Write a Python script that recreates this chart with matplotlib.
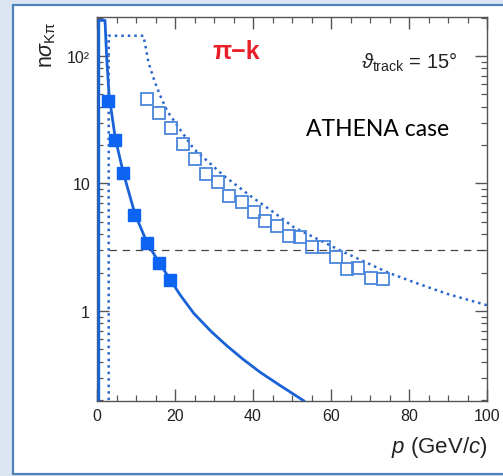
import numpy as np
import matplotlib
matplotlib.use("Agg")
import matplotlib.pyplot as plt
from matplotlib.patches import Rectangle
from matplotlib.ticker import FixedLocator, FixedFormatter, LogLocator, NullFormatter, MultipleLocator

plt.rcParams['font.family'] = ['Liberation Sans', 'DejaVu Sans']
plt.rcParams['mathtext.fontset'] = 'custom'
plt.rcParams['mathtext.rm'] = 'Liberation Sans'
plt.rcParams['mathtext.it'] = 'Liberation Sans:italic'
plt.rcParams['mathtext.bf'] = 'Liberation Sans:bold'

# solid pi-K separation curve
solid_p = [0.45, 0.45, 2.05, 2.5, 3.1, 4.7, 6.7, 9.7, 12.8, 15.9, 18.8, 21.3, 24.8, 29.3, 33.3, 37.6, 41.9, 47.0, 53.0]
solid_v = [0.2, 190, 190, 95, 49, 22.5, 12.3, 5.8, 3.45, 2.4, 1.76, 1.34, 0.96, 0.69, 0.534, 0.415, 0.33, 0.26, 0.198]

# dotted curve
dot_p = [3.0, 3.0, 11.9, 12.6, 13.2, 14.7, 16.2, 18.0, 20.6, 24.8, 32.5, 39.3, 45.3, 50.5, 62.5, 74.5, 81.3, 89.9, 100.0]
dot_v = [0.2, 144, 144, 112, 89, 64, 48.9, 37, 28.4, 18.7, 11.5, 8.0, 5.94, 4.53, 2.97, 2.01, 1.68, 1.36, 1.11]

# filled squares
fill_p = [2.7, 4.6, 6.6, 9.6, 12.7, 15.9, 18.7]
fill_v = [44.7, 22.1, 12.1, 5.66, 3.41, 2.38, 1.76]

# open squares
open_p = [12.7, 16.0, 18.9, 22.0, 25.0, 28.0, 30.9, 33.9, 37.2, 40.2, 43.2, 46.2,
          49.2, 52.0, 55.2, 58.2, 61.2, 64.0, 67.0, 70.2, 73.4]
open_v = [46, 36, 27.1, 20.4, 15.6, 11.9, 10.2, 8.0, 7.1, 5.94, 5.1, 4.67,
          3.9, 3.78, 3.16, 3.16, 2.64, 2.13, 2.18, 1.82, 1.77]

threshold = 3.0
ytick_vals = [1, 10, 100]
ytick_labels = ['1', '10', '10²']
xtick_vals = [0, 20, 40, 60, 80, 100]

W, H = 503, 477
fig = plt.figure(figsize=(W / 100, H / 100), dpi=100, facecolor='#dce6f2')
fig.patches.append(Rectangle((13 / W, 2 / H), 1.0, 1 - 8 / H, transform=fig.transFigure,
                             facecolor='white', edgecolor='#4f81bd', linewidth=1.6, zorder=-10))

ax = fig.add_axes([97 / W, 1 - 402 / H, 390 / W, 384 / H])
ax.set_facecolor('none')
ax.set_yscale('log')
ax.set_xlim(0, 100)
ax.set_ylim(0.197, 202)

ax.plot(solid_p, solid_v, color='#1a62d8', lw=2.0, solid_joinstyle='round', zorder=3)
ax.plot(dot_p, dot_v, color='#2a66cc', lw=1.8, ls=(0, (1, 1.6)), zorder=3)
ax.plot([3.2, 100], [threshold, threshold], color='#444444', lw=0.9, ls=(0, (6, 4.5)), zorder=2)
ax.plot(fill_p, fill_v, 's', color='#0d63f2', ms=8.6, mec='#0d63f2', zorder=4)
ax.plot(open_p, open_v, 's', mfc='none', mec='#4a86dc', mew=1.3, ms=9.2, zorder=4)

for s in ax.spines.values():
    s.set_color('#555555')
    s.set_linewidth(1.0)

ax.xaxis.set_major_locator(FixedLocator(xtick_vals))
ax.xaxis.set_minor_locator(MultipleLocator(5))
ax.yaxis.set_major_locator(FixedLocator(ytick_vals))
ax.yaxis.set_major_formatter(FixedFormatter(ytick_labels))
ax.yaxis.set_minor_locator(LogLocator(base=10, subs=np.arange(2, 10)))
ax.yaxis.set_minor_formatter(NullFormatter())
ax.tick_params(which='both', direction='in', top=True, right=True, color='#555555',
               labelsize=11.5, labelcolor='#222222', pad=5)
ax.tick_params(which='major', length=8.5, width=1.0)
ax.tick_params(which='minor', length=4.5, width=0.9)

fig.text(487 / W, 1 - 448 / H, r'$p$ (GeV/$c$)', ha='right', va='center', fontsize=16, color='#222222')
fig.text(48 / W, 1 - 21 / H, r'n$\sigma_{\mathrm{K\pi}}$', rotation=90, ha='center', va='top',
         fontsize=15.5, color='#222222')

fig.text(236 / W, 1 - 52 / H, 'π−k', ha='center', va='center',
         fontsize=18, fontweight='bold', color='#e8202a')
fig.text(457 / W, 1 - 62 / H, r'$\vartheta_{\mathrm{track}}$ = 15°',
         ha='right', va='center', fontsize=14.5, color='#222222')
fig.text(378 / W, 1 - 130 / H, 'ATHENA case', ha='center', va='center',
         fontsize=16.5, family=['Lato', 'DejaVu Sans'], color='black')

fig.savefig('out.png', dpi=100, facecolor=fig.get_facecolor())
